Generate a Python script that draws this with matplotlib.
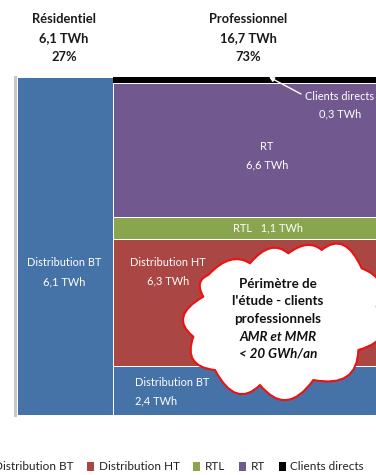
import matplotlib
matplotlib.use("Agg")
import matplotlib.pyplot as plt
from matplotlib.patches import PathPatch, Patch
from matplotlib.path import Path

plt.rcParams['font.family'] = ['Lato', 'DejaVu Sans']

segments = ['Distribution BT', 'Distribution HT', 'RTL', 'RT', 'Clients directs']
colors = ['#4572A7', '#AA4643', '#89A54E', '#71588F', '#000000']
residentiel = [6.1, 0, 0, 0, 0]
professionnel = [2.4, 6.3, 1.1, 6.6, 0.3]
group_widths = [6.1, 16.7]
groups = [residentiel, professionnel]
W, H = 376, 475

fig = plt.figure(figsize=(W / 100, H / 100), dpi=100, facecolor='white')
ax = fig.add_axes([17 / W, (H - 415) / H, 359 / W, 338 / H])
left = 0
for vals, width in zip(groups, group_widths):
    total = sum(vals)
    bottom = 0
    for v, c in zip(vals, colors):
        if v > 0:
            ax.bar(left, v / total, width=width, bottom=bottom, align='edge',
                   color=c, edgecolor='white' if c != '#000000' else c,
                   linewidth=0.7 if c != '#000000' else 0)
            bottom += v / total
    left += width
ax.set_xlim(0, sum(group_widths))
ax.set_ylim(0, 1)
ax.set_xticks([])
ax.set_yticks([])
for s in ['top', 'right', 'bottom']:
    ax.spines[s].set_visible(False)
ax.spines['left'].set_position(('outward', 1.6))
ax.spines['left'].set_color('#c8c8c8')
ax.spines['left'].set_linewidth(2.2)

# Pixel-coordinate overlay for annotations
ov = fig.add_axes([0, 0, 1, 1], facecolor='none')
ov.set_xlim(0, W)
ov.set_ylim(H, 0)
ov.axis('off')

def t(x, y, s, color='white', size=7.9, **kw):
    ov.text(x, y, s, color=color, fontsize=size, ha=kw.pop('ha', 'center'), va='center', **kw)

for x, y, s in [(64, 19, 'Résidentiel'), (64, 38, '6,1 TWh'), (64, 57, '27%'),
                (248, 19, 'Professionnel'), (248, 38, '16,7 TWh'), (248, 57, '73%')]:
    t(x, y, s, color='#1a1a1a', size=9.3, fontweight='bold')

t(64, 263, 'Distribution BT')
t(64, 282, '6,1 TWh')
t(340, 97, 'Clients directs')
t(340, 114, '0,3 TWh')
t(267, 147, 'RT')
t(267, 165, '6,6 TWh')
t(268, 228, 'RTL   1,1 TWh')
t(168, 263, 'Distribution HT')
t(168, 281, '6,3 TWh')
t(135, 383, 'Distribution BT', ha='left')
t(135, 401, '2,4 TWh', ha='left')
ov.annotate('', xy=(269, 77), xytext=(301, 94),
            arrowprops=dict(arrowstyle='-|>', color='white', lw=1, mutation_scale=7,
                            shrinkA=0, shrinkB=0))

# Cloud callout outline: (valley point, lobe peak), in pixels
def px(x, y):
    return (100 + x / 3, 200 + y / 3)

cloud = [((325, 225), (390, 180)), ((450, 190), (510, 145)), ((565, 160), (620, 135)),
         ((665, 150), (730, 135)), ((785, 205), (840, 250)), ((830, 320), (850, 400)),
         ((775, 450), (740, 530)), ((640, 540), (560, 600)), ((480, 555), (410, 580)),
         ((345, 510), (280, 480)), ((280, 410), (250, 350)), ((310, 290), (300, 250))]
verts, codes = [px(*cloud[0][0])], [Path.MOVETO]
for i, (v0, peak) in enumerate(cloud):
    v1 = cloud[(i + 1) % len(cloud)][0]
    a, b, p = px(*v0), px(*v1), px(*peak)
    ctrl = (2 * p[0] - (a[0] + b[0]) / 2, 2 * p[1] - (a[1] + b[1]) / 2)
    verts += [ctrl, b]
    codes += [Path.CURVE3, Path.CURVE3]
ov.add_patch(PathPatch(Path(verts, codes), facecolor='white', edgecolor='#ee1111', lw=1.5,
                       joinstyle='round', zorder=3))
for y, s, st in [(284, 'Périmètre de', 'normal'), (301, "l'étude - clients", 'normal'),
                 (319, 'professionnels', 'normal'), (337, 'AMR et MMR', 'italic'),
                 (354, '< 20 GWh/an', 'italic')]:
    ov.text(278, y, s, color='#111111', fontsize=9.6, ha='center', va='center',
            style=st, fontweight='bold', zorder=5)

handles = [Patch(facecolor=c, edgecolor='none') for c in colors]
fig.legend(handles, segments, loc='center', bbox_to_anchor=(173 / W, (H - 467) / H), ncol=5,
           frameon=False, fontsize=8.5, handlelength=0.6, handleheight=0.8,
           handletextpad=0.4, columnspacing=1.15, labelcolor='#222222',
           borderpad=0, borderaxespad=0)

fig.savefig('out.png', dpi=100)
